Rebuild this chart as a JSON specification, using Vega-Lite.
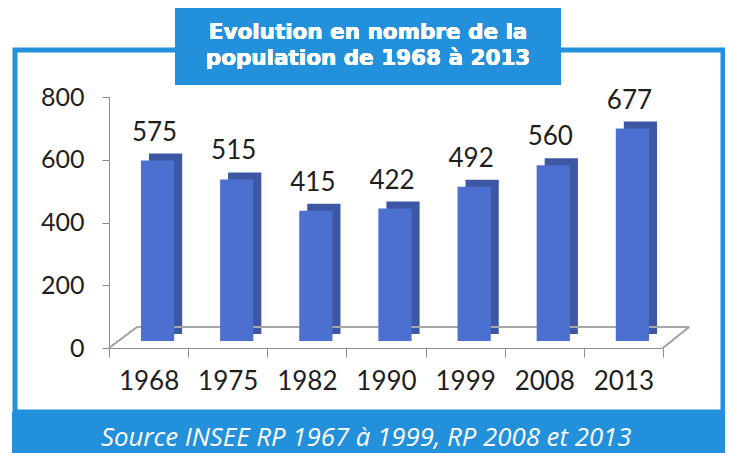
{
  "$schema": "https://vega.github.io/schema/vega-lite/v6.json",
  "background": "white",
  "padding": {"left": 12, "top": 7, "right": 0, "bottom": 0},
  "width": 708,
  "height": 362,
  "view": {"fill": null, "stroke": "#2290da", "strokeWidth": 5},
  "data": {"values": [
    {"year": "1968", "pop": 575},
    {"year": "1975", "pop": 515},
    {"year": "1982", "pop": 415},
    {"year": "1990", "pop": 422},
    {"year": "1999", "pop": 492},
    {"year": "2008", "pop": 560},
    {"year": "2013", "pop": 677}
  ]},
  "layer": [
    {
      "mark": {"type": "bar", "color": "#3d57a5", "xOffset": 17, "yOffset": -14, "y2Offset": -14, "width": {"band": 0.42}},
      "encoding": {
        "x": {"field": "year", "type": "nominal", "sort": null,
          "scale": {"range": [94, 648], "paddingInner": 0, "paddingOuter": 0},
          "axis": {"title": null, "labelAngle": 0, "labelFont": "Lato", "labelFontSize": 26, "labelColor": "#1e1e1e",
            "labelPadding": 11, "tickBand": "extent", "tickSize": 9, "tickColor": "#8c8c8c", "domainColor": "#8c8c8c",
            "offset": -64}},
        "y": {"field": "pop", "type": "quantitative",
          "scale": {"domain": [0, 800], "range": [298, 47], "nice": false},
          "axis": {"title": null, "values": [0, 200, 400, 600, 800], "grid": false, "labelFont": "Lato", "labelFontSize": 25,
            "labelColor": "#1e1e1e", "labelPadding": 18, "tickSize": 7, "tickColor": "#8c8c8c", "domainColor": "#8c8c8c",
            "offset": -94}}
      }
    },
    {
      "mark": {"type": "rule", "color": "#a8a8a8", "strokeWidth": 1.5, "xOffset": 28, "x2Offset": 26, "yOffset": -21},
      "encoding": {
        "x": {"datum": "1968", "bandPosition": 0},
        "x2": {"datum": "2013", "bandPosition": 1},
        "y": {"datum": 0}
      }
    },
    {
      "mark": {"type": "rule", "color": "#a8a8a8", "strokeWidth": 1.5, "x2Offset": 28, "y2Offset": -21},
      "encoding": {
        "x": {"datum": "1968", "bandPosition": 0},
        "x2": {"datum": "1968", "bandPosition": 0},
        "y": {"datum": 0},
        "y2": {"datum": 0}
      }
    },
    {
      "mark": {"type": "rule", "color": "#a8a8a8", "strokeWidth": 1.5, "x2Offset": 26, "y2Offset": -21},
      "encoding": {
        "x": {"datum": "2013", "bandPosition": 1},
        "x2": {"datum": "2013", "bandPosition": 1},
        "y": {"datum": 0},
        "y2": {"datum": 0}
      }
    },
    {
      "mark": {"type": "bar", "color": "#4b70cf", "xOffset": 9, "yOffset": -7, "y2Offset": -7, "width": {"band": 0.42}},
      "encoding": {
        "x": {"field": "year", "type": "nominal", "sort": null},
        "y": {"field": "pop", "type": "quantitative"}
      }
    },
    {
      "mark": {"type": "text", "font": "Lato", "fontSize": 26, "color": "#1e1e1e", "baseline": "middle", "dx": 6, "dy": -35},
      "encoding": {
        "x": {"field": "year", "type": "nominal", "sort": null},
        "y": {"field": "pop", "type": "quantitative"},
        "text": {"field": "pop", "type": "quantitative"}
      }
    },
    {
      "mark": {"type": "rect", "color": "#2290da"},
      "encoding": {
        "x": {"datum": "1968", "bandPosition": 0.834},
        "x2": {"datum": "2008", "bandPosition": 0.71},
        "y": {"datum": 838},
        "y2": {"datum": 1084}
      }
    },
    {
      "mark": {"type": "text", "text": ["Evolution en nombre de la", "population de 1968 à 2013"], "font": "DejaVu Sans", "fontWeight": "bold",
        "fontSize": 21.5, "lineHeight": 26, "color": "white", "baseline": "middle", "align": "center"},
      "encoding": {
        "x": {"datum": "1990", "bandPosition": 0.273},
        "y": {"datum": 1004}
      }
    },
    {
      "mark": {"type": "rect", "color": "#2290da"},
      "encoding": {
        "x": {"datum": "1968", "bandPosition": -1.22},
        "x2": {"datum": "2013", "bandPosition": 1.78},
        "y": {"datum": -204},
        "y2": {"datum": -338}
      }
    },
    {
      "data": {"values": [
        {"source": "Source INSEE RP 1967 à 1999, RP 2008 et 2013"}
      ]},
      "mark": {"type": "text", "font": "Open Sans", "fontStyle": "italic", "fontSize": 25.8, "color": "white", "baseline": "middle", "align": "center"},
      "encoding": {
        "x": {"datum": "1990", "bandPosition": 0.25},
        "y": {"datum": -286},
        "text": {"field": "source"}
      }
    }
  ]
}
